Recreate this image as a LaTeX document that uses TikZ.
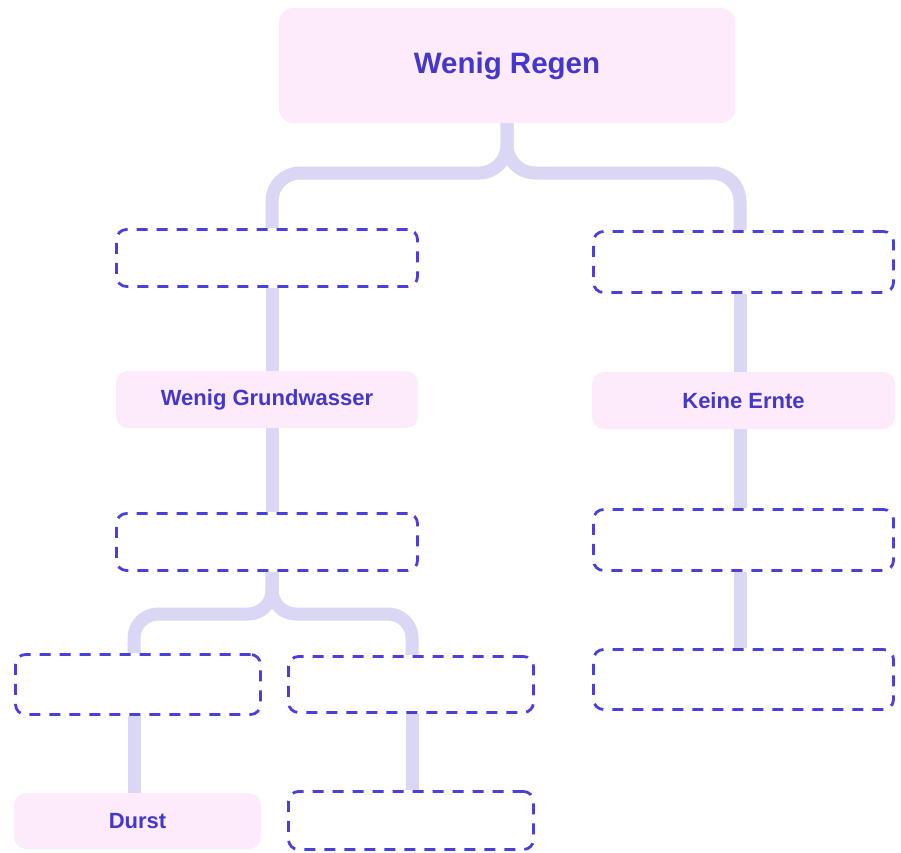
\documentclass[tikz,border=0pt]{standalone}
\usepackage{fontspec}
\setmainfont{Liberation Sans}
\usetikzlibrary{backgrounds}
\definecolor{ink}{HTML}{4338CA}
\definecolor{dashc}{HTML}{4A3FD8}
\definecolor{pinkfill}{HTML}{FDEBFC}
\definecolor{linkc}{HTML}{D9D7F4}
\begin{document}
\begin{tikzpicture}[x=1pt,y=-1pt,
  effect/.style={fill=pinkfill, rounded corners=12pt, inner sep=0pt, text=ink,
    font=\bfseries\fontsize{22}{26}\selectfont},
  blank/.style={draw=dashc, line width=2.8pt, dash pattern=on 11pt off 9pt,
    rounded corners=10pt, inner sep=0pt},
  linkline/.style={draw=linkc, line width=13pt, rounded corners=28pt},
  linklow/.style={linkline, rounded corners=24pt}]
\useasboundingbox (0,0) rectangle (901,852);

% boxes
\node[effect, rounded corners=14pt, minimum width=456pt, minimum height=115pt,
  font=\bfseries\fontsize{29.5}{34}\selectfont] (root) at (507,65.5) {Wenig Regen};
\node[blank, minimum width=301pt, minimum height=57pt] (a1) at (267,258) {};
\node[blank, minimum width=300pt, minimum height=61pt] (b1) at (743.5,262) {};
\node[effect, minimum width=302pt, minimum height=57pt] (wg) at (267,399.5) {Wenig Grundwasser};
\node[effect, minimum width=303pt, minimum height=57pt] (ke) at (743.5,400.5) {Keine Ernte};
\node[blank, minimum width=301pt, minimum height=57pt] (a2) at (267,542) {};
\node[blank, minimum width=300pt, minimum height=61pt] (b2) at (743.5,540) {};
\node[blank, minimum width=300pt, minimum height=60pt] (b3) at (743.5,679.5) {};
\node[blank, minimum width=245pt, minimum height=60pt] (a3) at (138,684.5) {};
\node[blank, minimum width=245pt, minimum height=56pt] (a4) at (411,684.5) {};
\node[effect, minimum width=247pt, minimum height=56pt] (durst) at (137.5,821) {Durst};
\node[blank, minimum width=245pt, minimum height=58pt] (a5) at (411,820.5) {};

% guide lines for the connectors
\coordinate (busTop) at (0,173);
\coordinate (busLow) at (0,614);
\coordinate (colL) at (272,0);
\coordinate (colR) at (740,0);
\coordinate (colLL) at (134,0);
\coordinate (colLR) at (412,0);

\begin{scope}[on background layer]
  \draw[linkline] (root.south) -- (root.south |- busTop) -- (colL |- busTop) -- (colL |- a1.north);
  \draw[linkline] (root.south) -- (root.south |- busTop) -- (colR |- busTop) -- (colR |- b1.north);
  \draw[linkline] (colL |- a1.south) -- (colL |- wg.north);
  \draw[linkline] (colL |- wg.south) -- (colL |- a2.north);
  \draw[linklow] (colL |- a2.south) -- (colL |- busLow) -- (colLL |- busLow) -- (colLL |- a3.north);
  \draw[linklow] (colL |- a2.south) -- (colL |- busLow) -- (colLR |- busLow) -- (colLR |- a4.north);
  \draw[linkline] (colLL |- a3.south) -- (colLL |- durst.north);
  \draw[linkline] (colLR |- a4.south) -- (colLR |- a5.north);
  \draw[linkline] (colR |- b1.south) -- (colR |- ke.north);
  \draw[linkline] (colR |- ke.south) -- (colR |- b2.north);
  \draw[linkline] (colR |- b2.south) -- (colR |- b3.north);
\end{scope}
\end{tikzpicture}
\end{document}
